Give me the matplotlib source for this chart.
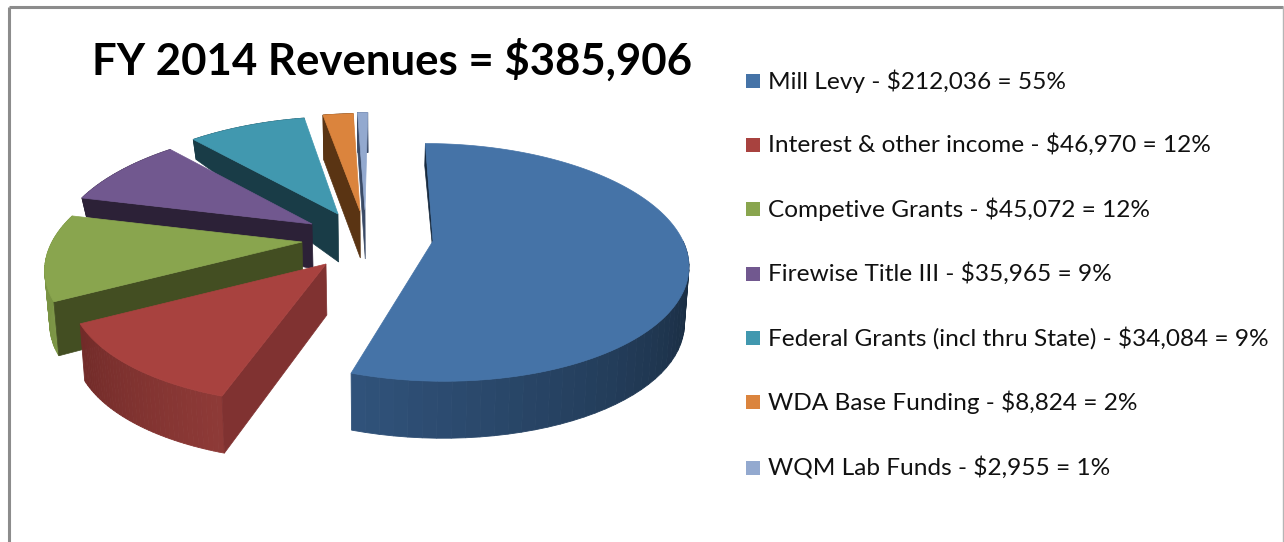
import numpy as np
import matplotlib
matplotlib.use('Agg')
import matplotlib.pyplot as plt
from matplotlib.patches import Rectangle

# DATA ##########################################
title = 'FY 2014 Revenues = $385,906'
labels = ['Mill Levy - $212,036 = 55%',
          'Interest & other income - $46,970 = 12%',
          'Competive Grants - $45,072 = 12%',
          'Firewise Title III - $35,965 = 9%',
          'Federal Grants (incl thru State) - $34,084 = 9%',
          'WDA Base Funding - $8,824 = 2%',
          'WQM Lab Funds - $2,955 = 1%']
values = [212036, 46970, 45072, 35965, 34084, 8824, 2955]

# STYLE #########################################
top_colors = ['#4573a7', '#a8423f', '#89a54e', '#71588f', '#4198af', '#db843d', '#93a9cf']
cut_colors = ['#16293e', '#803231', '#434e22', '#2c2137', '#193c47', '#5a3413', '#3a4a66']
wall_from = ['#162739', '#8e3a37', '#7d9647', '#2c2137', '#193c47', '#5a3413', '#3a4a66']
wall_to = ['#30527a', '#722b29', '#75903f', '#2c2137', '#193c47', '#5a3413', '#3a4a66']

# how far each slice is pulled out of the pie, in pixels
explode_x = [88, -19, -43, -33, -7, 15, 20]
explode_y = [9, 32, 10, -8, -18, -21, -22]
# depth of the cut face at the rim and at the point, and of the outer wall
rim_depth = [22, 57, 54, 19, 20, 45, 40]
apex_depth = [4, 51, 50, 45, 48, 47, 49]
wall_depth = [57, 57, 54, 19, 20, 45, 40]
wall_start = [90, 197.8, 241.6, 283.7, 317.2, 349, 357.2]
wall_stop = [197.8, 241.6, 290, 317.2, 349, 357.2, 360]

hub_x, hub_y = 345, 232
rx, ry = 250, 115
persp = 0.18
vanish_x = 383
shrink = 0.015


def project(theta, ax_x, ax_y):
    '''Rim point of the top face, theta in degrees clockwise from the back'''
    t = np.radians(theta)
    u, v = np.sin(t), -np.cos(t)
    w = 1 - persp * v
    return vanish_x + (ax_x - vanish_x + rx * u) / w, ax_y + ry * v / w


def lower(x, y, depth):
    return x + shrink * (vanish_x - x), y + depth


def blend(c1, c2, f):
    a = np.array(matplotlib.colors.to_rgb(c1))
    b = np.array(matplotlib.colors.to_rgb(c2))
    return tuple(a + (b - a) * f)


# PLOT ##########################################
fig = plt.figure(figsize=(12.84, 5.42), dpi=100)
ax = fig.add_axes([0, 0, 1, 1])
ax.set_xlim(0, 1284)
ax.set_ylim(542, 0)
ax.axis('off')

# frame
ax.plot([8.5, 8.5], [542, 7], color='#8c8c8c', lw=2.2, solid_capstyle='butt')
ax.plot([8.5, 1283], [7, 7], color='#8c8c8c', lw=2.2, solid_capstyle='butt')
ax.plot([1283, 1283], [7, 542], color='#b5b5b5', lw=1)

edges = np.concatenate([[0], np.cumsum(values)]) / np.sum(values) * 360

# back slices first so the front ones cover them
for i in reversed(range(len(values))):
    ax_x = hub_x + explode_x[i]
    ax_y = hub_y + explode_y[i]
    start, stop = edges[i], edges[i + 1]

    # outer wall, in narrow strips to get the shading
    th = np.linspace(max(start, wall_start[i]), min(stop, wall_stop[i]), 40)
    if th[-1] > th[0]:
        for j in range(len(th) - 1):
            x0, y0 = project(th[j], ax_x, ax_y)
            x1, y1 = project(th[j + 1], ax_x, ax_y)
            x2, y2 = lower(x1, y1, wall_depth[i])
            x3, y3 = lower(x0, y0, wall_depth[i])
            c = blend(wall_from[i], wall_to[i], j / (len(th) - 2))
            ax.fill([x0, x1, x2, x3], [y0, y1, y2, y3], color=c, lw=0.6)

    # cut face on the leading side
    rim_x, rim_y = project(start, ax_x, ax_y)
    bx, by = lower(rim_x, rim_y, rim_depth[i])
    cx, cy = lower(ax_x, ax_y, apex_depth[i])
    ax.fill([rim_x, ax_x, cx, bx], [rim_y, ax_y, cy, by], color=cut_colors[i], lw=0.5)

    # top face
    th = np.linspace(start, stop, 120)
    px, py = project(th, ax_x, ax_y)
    ax.fill(np.r_[ax_x, px], np.r_[ax_y, py], color=top_colors[i], lw=0.5)

# title and legend
ax.text(392.5, 60, title, fontsize=31.5, fontweight='bold', family='Lato', color='black',
        ha='center', va='center', parse_math=False)

legend_y = [81, 145, 209, 274, 338, 402, 468]
for i, lab in enumerate(labels):
    ax.add_patch(Rectangle((746, legend_y[i] - 7), 14, 14, color=top_colors[i], lw=0))
    ax.text(768, legend_y[i], lab, fontsize=17.6, family='Lato', color='#111111',
            ha='left', va='center', parse_math=False)

fig.savefig('out.png', dpi=100)
